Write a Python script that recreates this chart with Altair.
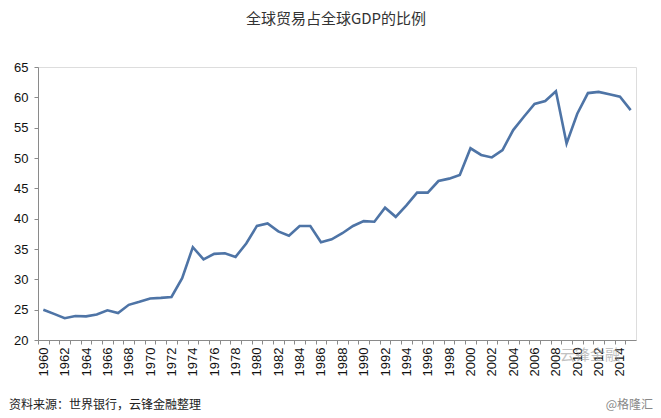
import altair as alt
import pandas as pd

years = list(range(1960, 2016))
trade_pct_gdp = [
    25.0, 24.3, 23.6, 23.95, 23.9, 24.2, 24.9, 24.45, 25.8, 26.3,
    26.85, 26.95, 27.1, 30.2, 35.3, 33.3, 34.2, 34.3, 33.7, 35.9,
    38.8, 39.2, 37.9, 37.2, 38.8, 38.8, 36.1, 36.6, 37.6, 38.8,
    39.6, 39.5, 41.8, 40.3, 42.2, 44.3, 44.3, 46.2, 46.6, 47.2,
    51.6, 50.5, 50.1, 51.3, 54.6, 56.8, 58.9, 59.4, 61.0, 52.4,
    57.3, 60.7, 60.9, 60.5, 60.1, 57.9,
]
y_ticks = list(range(20, 70, 5))
axis_tick_years = list(range(1960, 2017))

title_text = "全球贸易占全球GDP的比例"
source_text = "资料来源：世界银行，云锋金融整理"
credit_text = "@格隆汇"
watermark_text = "云锋金融"

df = pd.DataFrame({"year": years, "value": trade_pct_gdp})

FONT = "Liberation Sans"
CJK = "Noto Sans CJK SC"
W, H = 598, 273
half = W / 56 / 2

line = alt.Chart(df).mark_line(color="#4E74A6", strokeWidth=2.6).encode(
    x=alt.X(
        "year:Q",
        scale=alt.Scale(domain=[1959.5, 2015.5], nice=False, zero=False),
        axis=alt.Axis(
            values=axis_tick_years,
            labelExpr="datum.value % 2 == 0 && datum.value <= 2014 ? '' + datum.value : ''",
            labelAngle=270,
            tickOffset=-half,
            labelOffset=half,
            grid=False,
            title=None,
            labelFont=FONT,
            labelFontSize=13,
            labelColor="#111",
            tickColor="#8a8a8a",
            domainColor="#8a8a8a",
            tickSize=4,
            labelPadding=3,
            labelFlush=False,
            labelOverlap=False,
        ),
    ),
    y=alt.Y(
        "value:Q",
        scale=alt.Scale(domain=[20, 65], nice=False, zero=False),
        axis=alt.Axis(
            values=y_ticks,
            grid=False,
            title=None,
            labelFont=FONT,
            labelFontSize=13,
            labelColor="#111",
            tickColor="#8a8a8a",
            domainColor="#8a8a8a",
            tickSize=4,
            labelPadding=6,
        ),
    ),
)

title = alt.Chart(pd.DataFrame({"t": [title_text]})).mark_text(
    font=CJK, fontSize=15, color="#333", align="center", baseline="middle"
).encode(text="t:N", x=alt.value(298), y=alt.value(-48))

source = alt.Chart(pd.DataFrame({"t": [source_text]})).mark_text(
    font=CJK, fontSize=12, color="#222", align="left", baseline="middle"
).encode(text="t:N", x=alt.value(-29), y=alt.value(338))

credit = alt.Chart(pd.DataFrame({"t": [credit_text]})).mark_text(
    font=CJK, fontSize=12, color="#888", align="right", baseline="middle"
).encode(text="t:N", x=alt.value(615), y=alt.value(338))

watermark = alt.Chart(pd.DataFrame({"t": [watermark_text]})).mark_text(
    font=CJK, fontSize=15, color="#999", opacity=0.6, align="left", baseline="middle"
).encode(text="t:N", x=alt.value(522), y=alt.value(288))

chart = (
    alt.layer(line, title, source, credit, watermark)
    .properties(
        width=W,
        height=H,
        autosize=alt.AutoSizeParams(type="none"),
        padding={"left": 30, "top": 59, "right": 17, "bottom": 76},
    )
    .configure_view(stroke=None)
    .configure(background="white")
)

chart.save("out.html", embed_options={"renderer": "svg", "actions": False})
